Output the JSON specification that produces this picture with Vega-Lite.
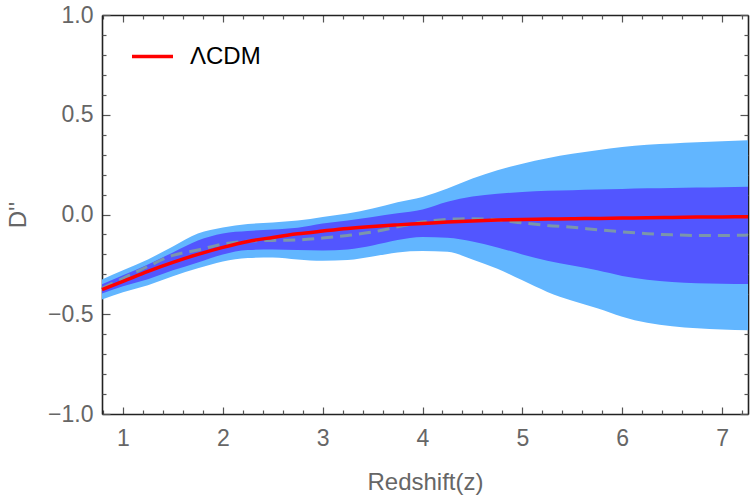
{
  "$schema": "https://vega.github.io/schema/vega-lite/v6.json",
  "autosize": {"type": "none"},
  "width": 646,
  "height": 399,
  "padding": {"left": 102, "top": 15, "right": 2, "bottom": 84},
  "background": "white",
  "config": {
    "view": {"stroke": null},
    "font": "Liberation Sans",
    "axis": {
      "grid": false,
      "domainColor": "#222222",
      "domainWidth": 1.6,
      "tickColor": "#555555",
      "tickWidth": 1.2,
      "labelColor": "#666666",
      "labelFont": "Liberation Sans",
      "labelFontSize": 23,
      "titleColor": "#666666",
      "titleFont": "Liberation Sans",
      "titleFontSize": 24,
      "titleFontWeight": "normal"
    }
  },
  "data": {
    "values": [
      {"z": 0.79, "ll": -0.426, "dl": -0.396, "r": -0.376, "m": -0.370, "du": -0.350, "lu": -0.326},
      {"z": 1.00, "ll": -0.390, "dl": -0.360, "r": -0.335, "m": -0.320, "du": -0.305, "lu": -0.280},
      {"z": 1.25, "ll": -0.355, "dl": -0.325, "r": -0.285, "m": -0.260, "du": -0.250, "lu": -0.225},
      {"z": 1.50, "ll": -0.310, "dl": -0.280, "r": -0.240, "m": -0.205, "du": -0.190, "lu": -0.160},
      {"z": 1.75, "ll": -0.270, "dl": -0.240, "r": -0.200, "m": -0.178, "du": -0.130, "lu": -0.095},
      {"z": 2.00, "ll": -0.235, "dl": -0.200, "r": -0.165, "m": -0.148, "du": -0.095, "lu": -0.065},
      {"z": 2.25, "ll": -0.218, "dl": -0.178, "r": -0.135, "m": -0.134, "du": -0.083, "lu": -0.048},
      {"z": 2.50, "ll": -0.215, "dl": -0.175, "r": -0.115, "m": -0.130, "du": -0.075, "lu": -0.040},
      {"z": 2.75, "ll": -0.225, "dl": -0.178, "r": -0.097, "m": -0.128, "du": -0.066, "lu": -0.030},
      {"z": 3.00, "ll": -0.232, "dl": -0.180, "r": -0.083, "m": -0.118, "du": -0.045, "lu": -0.012},
      {"z": 3.25, "ll": -0.228, "dl": -0.175, "r": -0.070, "m": -0.105, "du": -0.030, "lu": 0.005},
      {"z": 3.50, "ll": -0.210, "dl": -0.155, "r": -0.060, "m": -0.088, "du": -0.012, "lu": 0.030},
      {"z": 3.75, "ll": -0.190, "dl": -0.128, "r": -0.052, "m": -0.062, "du": 0.006, "lu": 0.062},
      {"z": 4.00, "ll": -0.183, "dl": -0.113, "r": -0.045, "m": -0.038, "du": 0.025, "lu": 0.088},
      {"z": 4.25, "ll": -0.187, "dl": -0.116, "r": -0.038, "m": -0.024, "du": 0.064, "lu": 0.130},
      {"z": 4.50, "ll": -0.225, "dl": -0.135, "r": -0.032, "m": -0.021, "du": 0.090, "lu": 0.180},
      {"z": 4.75, "ll": -0.272, "dl": -0.165, "r": -0.028, "m": -0.027, "du": 0.104, "lu": 0.222},
      {"z": 5.00, "ll": -0.330, "dl": -0.200, "r": -0.025, "m": -0.042, "du": 0.113, "lu": 0.255},
      {"z": 5.25, "ll": -0.388, "dl": -0.232, "r": -0.023, "m": -0.055, "du": 0.119, "lu": 0.282},
      {"z": 5.50, "ll": -0.432, "dl": -0.256, "r": -0.021, "m": -0.064, "du": 0.122, "lu": 0.304},
      {"z": 5.75, "ll": -0.470, "dl": -0.280, "r": -0.020, "m": -0.076, "du": 0.125, "lu": 0.322},
      {"z": 6.00, "ll": -0.512, "dl": -0.308, "r": -0.018, "m": -0.087, "du": 0.128, "lu": 0.338},
      {"z": 6.25, "ll": -0.543, "dl": -0.327, "r": -0.016, "m": -0.096, "du": 0.131, "lu": 0.350},
      {"z": 6.50, "ll": -0.560, "dl": -0.338, "r": -0.015, "m": -0.102, "du": 0.133, "lu": 0.356},
      {"z": 6.75, "ll": -0.570, "dl": -0.344, "r": -0.013, "m": -0.105, "du": 0.135, "lu": 0.362},
      {"z": 7.00, "ll": -0.576, "dl": -0.347, "r": -0.012, "m": -0.105, "du": 0.137, "lu": 0.367},
      {"z": 7.26, "ll": -0.580, "dl": -0.348, "r": -0.011, "m": -0.103, "du": 0.139, "lu": 0.372}
    ]
  },
  "resolve": {"axis": {"x": "independent", "y": "independent"}},
  "layer": [
    {
      "mark": {"type": "area", "color": "#62b6ff", "opacity": 1, "interpolate": "monotone"},
      "encoding": {
        "x": {"field": "z", "type": "quantitative",
              "scale": {"domain": [0.79, 7.26], "nice": false, "zero": false},
              "axis": {"orient": "bottom", "values": [1, 2, 3, 4, 5, 6, 7], "tickSize": -7,
                       "labelPadding": 20, "title": "Redshift(z)", "titlePadding": 20}},
        "y": {"field": "ll", "type": "quantitative",
              "scale": {"domain": [-1, 1], "nice": false, "zero": false},
              "axis": {"orient": "left", "values": [-1, -0.5, 0, 0.5, 1], "format": ".1f", "tickSize": -8,
                       "labelPadding": 17, "title": "D''", "titlePadding": 17}},
        "y2": {"field": "lu"}
      }
    },
    {
      "mark": {"type": "area", "color": "#5256ff", "opacity": 1, "interpolate": "monotone"},
      "encoding": {
        "x": {"field": "z", "type": "quantitative",
              "axis": {"orient": "top", "values": [1, 2, 3, 4, 5, 6, 7], "tickSize": -7, "labels": false, "title": null}},
        "y": {"field": "dl", "type": "quantitative",
              "axis": {"orient": "right", "values": [-1, -0.5, 0, 0.5, 1], "tickSize": -8, "labels": false, "title": null}},
        "y2": {"field": "du"}
      }
    },
    {
      "mark": {"type": "line", "color": "#7b96ab", "strokeWidth": 3, "strokeDash": [12, 7], "interpolate": "monotone"},
      "encoding": {
        "x": {"field": "z", "type": "quantitative",
              "axis": {"orient": "bottom", "values": [0.8, 1.2, 1.4, 1.6, 1.8, 2.2, 2.4, 2.6, 2.8, 3.2, 3.4, 3.6, 3.8, 4.2, 4.4, 4.6, 4.8, 5.2, 5.4, 5.6, 5.8, 6.2, 6.4, 6.6, 6.8, 7.2],
                       "tickSize": -4, "labels": false, "domain": false, "title": null}},
        "y": {"field": "m", "type": "quantitative",
              "axis": {"orient": "left", "values": [-0.9, -0.8, -0.7, -0.6, -0.4, -0.3, -0.2, -0.1, 0.1, 0.2, 0.3, 0.4, 0.6, 0.7, 0.8, 0.9],
                       "tickSize": -4, "labels": false, "domain": false, "title": null}}
      }
    },
    {
      "mark": {"type": "line", "strokeWidth": 3.5, "interpolate": "monotone"},
      "encoding": {
        "x": {"field": "z", "type": "quantitative",
              "axis": {"orient": "top", "values": [0.8, 1.2, 1.4, 1.6, 1.8, 2.2, 2.4, 2.6, 2.8, 3.2, 3.4, 3.6, 3.8, 4.2, 4.4, 4.6, 4.8, 5.2, 5.4, 5.6, 5.8, 6.2, 6.4, 6.6, 6.8, 7.2],
                       "tickSize": -4, "labels": false, "domain": false, "title": null}},
        "y": {"field": "r", "type": "quantitative",
              "axis": {"orient": "right", "values": [-0.9, -0.8, -0.7, -0.6, -0.4, -0.3, -0.2, -0.1, 0.1, 0.2, 0.3, 0.4, 0.6, 0.7, 0.8, 0.9],
                       "tickSize": -4, "labels": false, "domain": false, "title": null}},
        "color": {"datum": "ΛCDM", "type": "nominal",
                  "scale": {"range": ["#ff0000"]},
                  "legend": {"orient": "none", "legendX": 28, "legendY": 19, "title": null, "padding": 0,
                             "symbolType": "stroke", "symbolSize": 1681, "symbolStrokeWidth": 3.5,
                             "labelFontSize": 24, "labelColor": "#000000", "labelFont": "Liberation Sans",
                             "labelOffset": 15}}
      }
    }
  ]
}
